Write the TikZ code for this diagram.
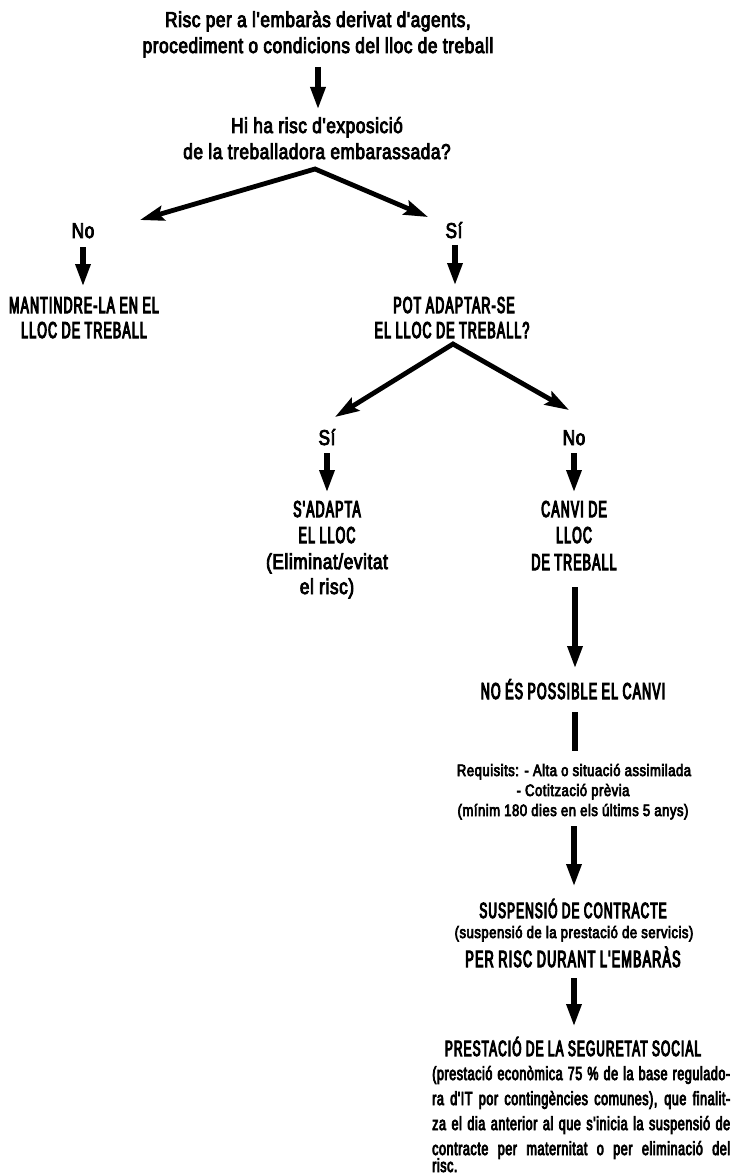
\documentclass[tikz,border=0pt]{standalone}
\usepackage{fontspec}
\setmainfont[FakeStretch=0.795,FakeBold=4,LetterSpace=3,Ligatures=TeXOff]{Liberation Sans}
\newfontfamily\capsfont[FakeStretch=0.54,FakeBold=4.5,LetterSpace=5]{Liberation Sans}
\newfontfamily\parafont[FakeStretch=0.66,FakeBold=4,LetterSpace=3]{Liberation Sans}
\usetikzlibrary{arrows.meta}
\begin{document}
\begin{tikzpicture}[x=1pt,y=-1pt,
  lc/.style={inner sep=0pt, anchor=base, font=\fontsize{21.5}{26}\selectfont},
  uc/.style={inner sep=0pt, anchor=base, font=\capsfont\fontsize{23}{26}\selectfont},
  ucs/.style={inner sep=0pt, anchor=base, font=\capsfont\fontsize{22}{26}\selectfont},
  ucl/.style={inner sep=0pt, anchor=base, font=\capsfont\fontsize{23.4}{26}\selectfont},
  sm/.style={inner sep=0pt, anchor=base, font=\fontsize{16.5}{20}\selectfont},
  para/.style={inner sep=0pt, anchor=base west, font=\parafont\fontsize{19}{25}\selectfont},
  varr/.style={line width=6pt, -{Triangle[length=23pt,width=14pt]}},
  darr/.style={line width=4.8pt, line join=miter, {Stealth[length=24pt,width=15pt,inset=4pt]}-{Stealth[length=24pt,width=15pt,inset=4pt]}},
  barline/.style={line width=6.5pt},
]
\path[use as bounding box, fill=white] (0,0) rectangle (736,1174);

% texts
\node[lc] (t1) at (318,27) {Risc per a l'embaràs derivat d'agents,};
\node[lc] (t2) at (318,53) {procediment o condicions del lloc de treball};
\node[lc] (q1) at (317,133) {Hi ha risc d'exposició};
\node[lc] (q2) at (317,159) {de la treballadora embarassada?};
\node[lc] (no1) at (83,238) {No};
\node[lc] (si1) at (454,238) {Sí};
\node[uc] (m1) at (84,313) {MANTINDRE-LA EN EL};
\node[uc] (m2) at (84,338) {LLOC DE TREBALL};
\node[uc] (p1) at (454,313) {POT ADAPTAR-SE};
\node[uc] (p2) at (452,338) {EL LLOC DE TREBALL?};
\node[lc] (si2) at (327,445) {Sí};
\node[lc] (no2) at (574,445) {No};
\node[uc] (s1) at (327,517) {S'ADAPTA};
\node[uc] (s2) at (327,543) {EL LLOC};
\node[lc] (s3) at (327,569) {(Eliminat/evitat};
\node[lc] (s4) at (327,594) {el risc)};
\node[uc] (c1) at (574,517) {CANVI DE};
\node[uc] (c2) at (574,543) {LLOC};
\node[uc] (c3) at (574,570) {DE TREBALL};
\node[uc] (np) at (573,699) {NO ÉS POSSIBLE EL CANVI};
\node[sm] (r1) at (574,776) {Requisits: - Alta o situació assimilada};
\node[sm] (r2) at (573,796) {- Cotització prèvia};
\node[sm] (r3) at (573,816) {(mínim 180 dies en els últims 5 anys)};
\node[ucs] (u1) at (573,918) {SUSPENSIÓ DE CONTRACTE};
\node[sm] (u2) at (574,938) {(suspensió de la prestació de servicis)};
\node[ucl] (u3) at (573,967) {PER RISC DURANT L'EMBARÀS};
\node[ucs] (ps) at (573,1056) {PRESTACIÓ DE LA SEGURETAT SOCIAL};
\node[para] (l1) at (432,1080) {\makebox[298pt][s]{(prestació econòmica 75 \% de la base regulado-}};
\node[para] (l2) at (432,1105) {\makebox[298pt][s]{ra d'IT por contingències comunes), que finalit-}};
\node[para] (l3) at (432,1130) {\makebox[298pt][s]{za el dia anterior al que s'inicia la suspensió de}};
\node[para] (l4) at (432,1155) {\makebox[298pt][s]{contracte per maternitat o per eliminació del}};
\node[para] (l5) at (432,1172) {risc.};

% connectors
\draw[varr] ([shift={(0,14)}]t2.base) -- ([shift={(1,-23)}]q1.base);
\draw[darr] ([shift={(57,-18)}]no1.base) -- ([shift={(-2,10)}]q2.base) -- ([shift={(-26,-21)}]si1.base);
\draw[varr] ([shift={(0,9)}]no1.base) -- ([shift={(-1,-26)}]m1.base);
\draw[varr] ([shift={(1,7)}]si1.base) -- ([shift={(1,-27)}]p1.base);
\draw[darr] ([shift={(8,-28)}]si2.base) -- ([shift={(1,6)}]p2.base) -- ([shift={(-5,-35)}]no2.base);
\draw[varr] ([shift={(0,8)}]si2.base) -- ([shift={(0,-24)}]s1.base);
\draw[varr] ([shift={(0,8)}]no2.base) -- ([shift={(0,-24)}]c1.base);
\draw[varr] ([shift={(1,17)}]c3.base) -- ([shift={(2,-30)}]np.base);
\draw[barline] ([shift={(2,13)}]np.base) -- ([shift={(1,-25)}]r1.base);
\draw[varr] ([shift={(1,10)}]r3.base) -- ([shift={(1,-31)}]u1.base);
\draw[varr] ([shift={(1,11)}]u3.base) -- ([shift={(1,-29)}]ps.base);
\end{tikzpicture}
\end{document}
